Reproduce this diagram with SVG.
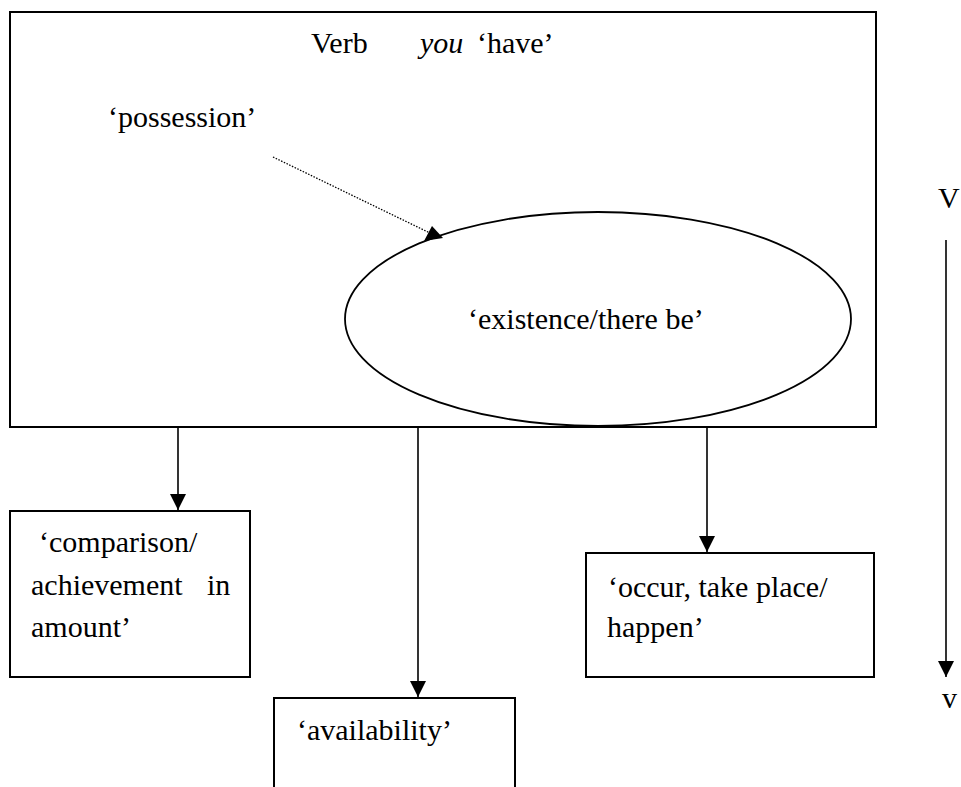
<svg xmlns="http://www.w3.org/2000/svg" width="961" height="787" viewBox="0 0 961 787">
  <style>
    text { font-family: "Liberation Serif", "Times New Roman", serif; font-size: 30px; fill: #000; }
    .box { fill: none; stroke: #000; stroke-width: 2; }
    .conn { fill: none; stroke: #000; stroke-width: 1.6; }
    .dot { fill: none; stroke: #000; stroke-width: 1.3; stroke-dasharray: 1.5 1.5; }
  </style>
  <defs>
    <marker id="arrow" markerUnits="userSpaceOnUse" markerWidth="18" markerHeight="18" viewBox="0 0 18 18" refX="16" refY="9" orient="auto">
      <path d="M0,1 L16,9 L0,17 Z" fill="#000"/>
    </marker>
  </defs>
  <rect width="961" height="787" fill="#fff"/>

  <g id="main">
    <rect class="box" x="10" y="12" width="866" height="415"/>
    <text x="311" y="53">Verb</text>
    <text x="420" y="53"><tspan font-style="italic">you</tspan></text>
    <text x="477" y="53">‘have’</text>
  </g>

  <g id="possession">
    <text x="108" y="127">‘possession’</text>
  </g>

  <g id="existence">
    <ellipse class="box" cx="598" cy="319" rx="253" ry="107" style="stroke-width:1.8"/>
    <text x="468" y="329">‘existence/there be’</text>
  </g>

  <g id="comparison">
    <rect class="box" x="10" y="511" width="240" height="166"/>
    <text x="39" y="552">‘comparison/</text>
    <text x="31" y="595">achievement</text>
    <text x="207" y="595">in</text>
    <text x="31" y="637">amount’</text>
  </g>

  <g id="availability">
    <rect class="box" x="274" y="698" width="241" height="100"/>
    <text x="297" y="740">‘availability’</text>
  </g>

  <g id="occur">
    <rect class="box" x="586" y="553" width="288" height="124"/>
    <text x="608" y="597">‘occur, take place/</text>
    <text x="607" y="637">happen’</text>
  </g>

  <g id="scale">
    <text x="938" y="208">V</text>
    <text x="942" y="708">v</text>
  </g>

  <g id="connectors">
    <line class="dot" x1="273" y1="157" x2="432" y2="234"/>
    <polygon points="432,226 424,241 443,238" fill="#000"/>
    <line class="conn" x1="178" y1="427" x2="178" y2="510" marker-end="url(#arrow)"/>
    <line class="conn" x1="418" y1="427" x2="418" y2="697" marker-end="url(#arrow)"/>
    <line class="conn" x1="707" y1="427" x2="707" y2="552" marker-end="url(#arrow)"/>
    <line class="conn" x1="946" y1="240" x2="946" y2="677" marker-end="url(#arrow)"/>
  </g>
</svg>
